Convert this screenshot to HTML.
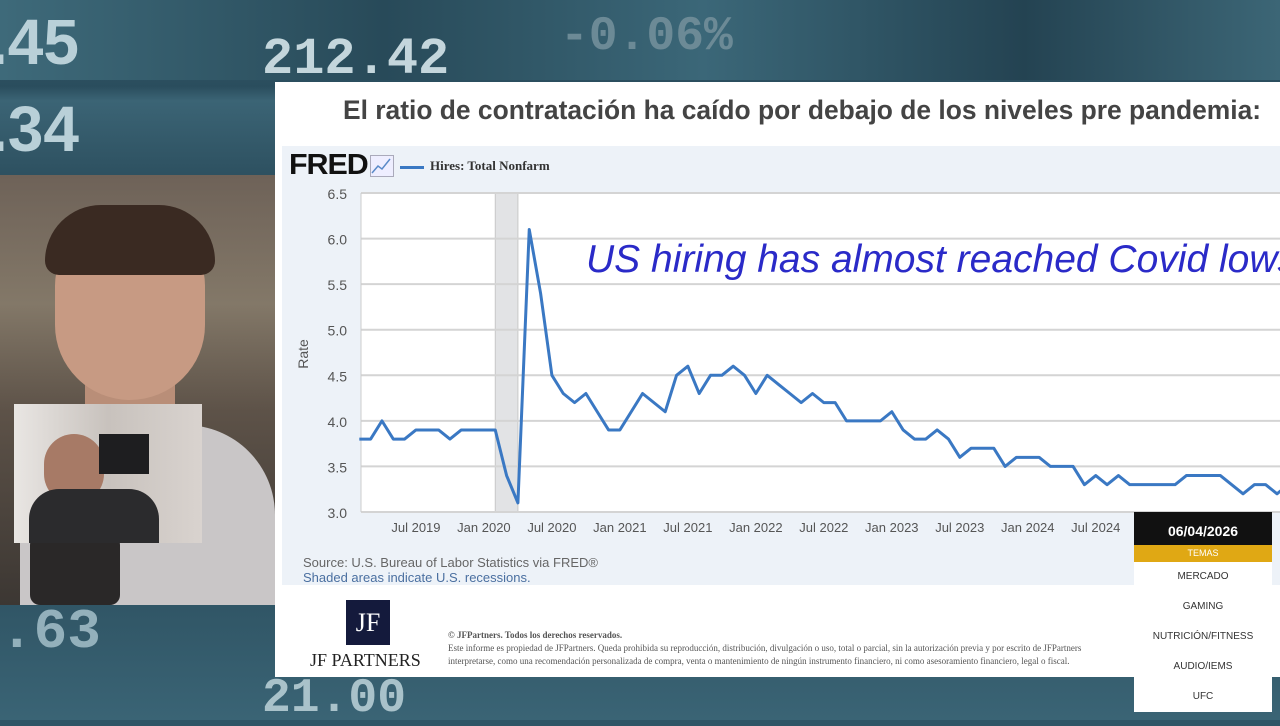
<!DOCTYPE html>
<html><head><meta charset="utf-8">
<style>
body{margin:0;width:1280px;height:720px;overflow:hidden;position:relative;font-family:"Liberation Sans",sans-serif;background:#2f5566}
.abs{position:absolute}
.tick{font-family:"Liberation Mono",monospace;color:#b9d0d8;font-weight:bold}
</style></head><body>
<div class="abs" style="left:0;top:0;width:1280px;height:720px;background:linear-gradient(180deg,#3d6677 0%,#2a4d5d 12%,#3b6475 14%,#264655 30%,#2e5262 80%,#3a6475 100%)"></div>
<div class="abs" style="left:0;top:0;width:1280px;height:80px;background:linear-gradient(90deg,#3e6a7a,#284a59 30%,#3b6778 55%,#244352 80%,#3c6676)"></div>
<div class="abs tick" style="left:-10px;top:5px;font-size:64px;font-family:'Liberation Sans'">.45</div>
<div class="abs tick" style="left:-10px;top:92px;font-size:64px;font-family:'Liberation Sans'">.34</div>
<div class="abs tick" style="left:262px;top:30px;font-size:52px;color:#c4d6dc">212.42</div>
<div class="abs tick" style="left:560px;top:10px;font-size:48px;color:#6c8a96">-0.06%</div>
<div class="abs tick" style="left:0;top:600px;font-size:56px;color:#93b0bb">.63</div>
<div class="abs tick" style="left:262px;top:672px;font-size:48px;color:#a9c2ca">21.00</div>

<!-- webcam -->
<div class="abs" style="left:0;top:175px;width:275px;height:430px;overflow:hidden;background:linear-gradient(180deg,#6e6258 0%,#837868 30%,#5d5248 55%,#3c3733 100%)">
 <div class="abs" style="left:20px;top:250px;width:255px;height:190px;border-radius:90px 90px 0 0;background:#c9c6c7"></div>
 <div class="abs" style="left:85px;top:190px;width:90px;height:80px;background:#b98e78"></div>
 <div class="abs" style="left:55px;top:45px;width:150px;height:180px;border-radius:70px 70px 80px 80px;background:#c79a83"></div>
 <div class="abs" style="left:45px;top:30px;width:170px;height:70px;border-radius:80px 80px 20px 20px;background:#3a2a22"></div>
 <div class="abs" style="left:30px;top:360px;width:90px;height:70px;background:#2a2828;border-radius:10px"></div>
</div>
<div class="abs" style="left:14px;top:404px;width:188px;height:139px;overflow:hidden;background:linear-gradient(90deg,#e9e6e3,#c8c2bd 50%,#d9d3cf)">
 <div class="abs" style="left:30px;top:30px;width:60px;height:70px;border-radius:30px;background:#a77a66"></div>
 <div class="abs" style="left:15px;top:85px;width:130px;height:54px;border-radius:30px 30px 0 0;background:#2b2b2d"></div>
 <div class="abs" style="left:85px;top:30px;width:50px;height:40px;background:#1e1e20"></div>
</div>

<!-- slide -->
<div class="abs" style="left:275px;top:82px;width:1005px;height:595px;background:#fff"></div>
<div class="abs" style="left:343px;top:95px;font-size:26.4px;font-weight:bold;color:#444;white-space:nowrap">El ratio de contratación ha caído por debajo de los niveles pre pandemia:</div>
<div class="abs" style="left:282px;top:146px;width:998px;height:439px;background:#edf2f8"></div>
<div class="abs" style="left:289px;top:149px;font-size:29px;font-weight:900;color:#111;letter-spacing:-1px;transform:scaleX(1.05);transform-origin:left">FRED</div>
<svg class="abs" style="left:370px;top:155px" width="24" height="22"><rect x="0.5" y="0.5" width="23" height="21" fill="#eef" stroke="#aab"/><polyline points="2,18 8,11 12,14 20,4" fill="none" stroke="#5a8ac8" stroke-width="1.5"/></svg>
<div class="abs" style="left:400px;top:158px;font-family:'Liberation Serif',serif;font-weight:bold;font-size:13px;color:#333"><span style="display:inline-block;width:24px;height:3px;background:#3a78c3;vertical-align:middle;margin-right:6px"></span>Hires: Total Nonfarm</div>
<svg class="abs" id="chart" style="left:0;top:0" width="1280" height="720"></svg>
<div class="abs" style="left:586px;top:238px;font-size:39px;font-style:italic;color:#2a2ac8;white-space:nowrap">US hiring has almost reached Covid lows</div>
<div class="abs" style="left:303px;top:555px;font-size:13px;color:#666;line-height:15px">Source: U.S. Bureau of Labor Statistics via FRED®<br><span style="color:#4a6fa0">Shaded areas indicate U.S. recessions.</span></div>
<div class="abs" style="left:346px;top:600px;width:44px;height:45px;background:#141a3c;color:#fff;font-family:'Liberation Serif',serif;font-size:26px;text-align:center;line-height:45px">JF</div>
<div class="abs" style="left:310px;top:650px;font-family:'Liberation Serif',serif;font-size:18px;color:#222">JF PARTNERS</div>
<div class="abs" style="left:448px;top:629px;font-family:'Liberation Serif',serif;font-size:9px;color:#555;line-height:13px;white-space:nowrap;width:690px;overflow:hidden"><b>© JFPartners. Todos los derechos reservados.</b><br>Este informe es propiedad de JFPartners. Queda prohibida su reproducción, distribución, divulgación o uso, total o parcial, sin la autorización previa y por escrito de JFPartners<br>interpretarse, como una recomendación personalizada de compra, venta o mantenimiento de ningún instrumento financiero, ni como asesoramiento financiero, legal o fiscal.</div>

<!-- menu overlay -->
<div class="abs" style="left:1134px;top:512px;width:138px;height:33px;background:#111;color:#fff;font-weight:bold;font-size:14px;text-align:center;line-height:38px">06/04/2026</div>
<div class="abs" style="left:1134px;top:545px;width:138px;height:17px;background:#e0a814;color:#fff;font-size:9px;text-align:center;line-height:17px">TEMAS</div>
<div class="abs" style="left:1134px;top:562px;width:138px;height:150px;background:#fff;font-size:10px;color:#333;text-align:center">
 <div style="height:30px;line-height:30px">MERCADO</div>
 <div style="height:30px;line-height:30px">GAMING</div>
 <div style="height:30px;line-height:30px">NUTRICIÓN/FITNESS</div>
 <div style="height:30px;line-height:30px">AUDIO/IEMS</div>
 <div style="height:30px;line-height:30px">UFC</div>
</div>

<script>
const startYear=2019, startMonth=1; // Feb 2019 (0-based month)
const hires=[3.8,3.8,4.0,3.8,3.8,3.9,3.9,3.9,3.8,3.9,3.9,3.9,3.9,3.4,3.1,6.1,5.4,4.5,4.3,4.2,4.3,4.1,3.9,3.9,4.1,4.3,4.2,4.1,4.5,4.6,4.3,4.5,4.5,4.6,4.5,4.3,4.5,4.4,4.3,4.2,4.3,4.2,4.2,4.0,4.0,4.0,4.0,4.1,3.9,3.8,3.8,3.9,3.8,3.6,3.7,3.7,3.7,3.5,3.6,3.6,3.6,3.5,3.5,3.5,3.3,3.4,3.3,3.4,3.3,3.3,3.3,3.3,3.3,3.4,3.4,3.4,3.4,3.3,3.2,3.3,3.3,3.2,3.3];
const yTicks=[3.0,3.5,4.0,4.5,5.0,5.5,6.0,6.5];
const xTickLabels=["Jul 2019","Jan 2020","Jul 2020","Jan 2021","Jul 2021","Jan 2022","Jul 2022","Jan 2023","Jul 2023","Jan 2024","Jul 2024","Jan 2025","Jul 2025"];
const xTickMonths=[5,11,17,23,29,35,41,47,53,59,65,71,77]; // months since Feb 2019
const recession=[12,14];
const NS="http://www.w3.org/2000/svg";
const svg=document.getElementById('chart');
const L=361,R=1290,T=193,B=512,x0=359.3,mw=11.33;
const X=m=>x0+m*mw;
const Y=v=>B-(v-3.0)/3.5*(B-T);
function mk(t,a,p){const e=document.createElementNS(NS,t);for(const k in a)e.setAttribute(k,a[k]);(p||svg).appendChild(e);return e;}
let e=mk('rect',{x:L,y:T,width:R-L,height:B-T,fill:'#fff'});


e=mk('rect',{x:X(recession[0]),y:T,width:X(recession[1])-X(recession[0]),height:B-T,fill:'#e2e3e5',stroke:'#c8c8c8'});


yTicks.forEach(v=>{
 const g=mk('line',{x1:L,x2:R,y1:Y(v),y2:Y(v),stroke:'#d4d4d4','stroke-width':2});
 
 
 const t=mk('text',{x:347,y:Y(v)+6,'text-anchor':'end','font-size':14,fill:'#555','font-family':'Liberation Sans'});
 t.textContent=v.toFixed(1);
 
 
});
xTickLabels.forEach((s,i)=>{
 const t=mk('text',{x:X(xTickMonths[i]),y:532,'text-anchor':'middle','font-size':13,fill:'#555','font-family':'Liberation Sans'});
 t.textContent=s;
 
 
});
e=mk('line',{x1:L,x2:L,y1:T,y2:B,stroke:'#ccc'});


e=mk('text',{x:308,y:354,'text-anchor':'middle','font-size':14,fill:'#555',transform:'rotate(-90 308 354)','font-family':'Liberation Sans'});
e.textContent='Rate';


e=mk('polyline',{points:hires.map((v,i)=>X(i)+','+Y(v)).join(' '),fill:'none',stroke:'#3a78c3','stroke-width':3,'stroke-linejoin':'round'});


</script>
</body></html>
